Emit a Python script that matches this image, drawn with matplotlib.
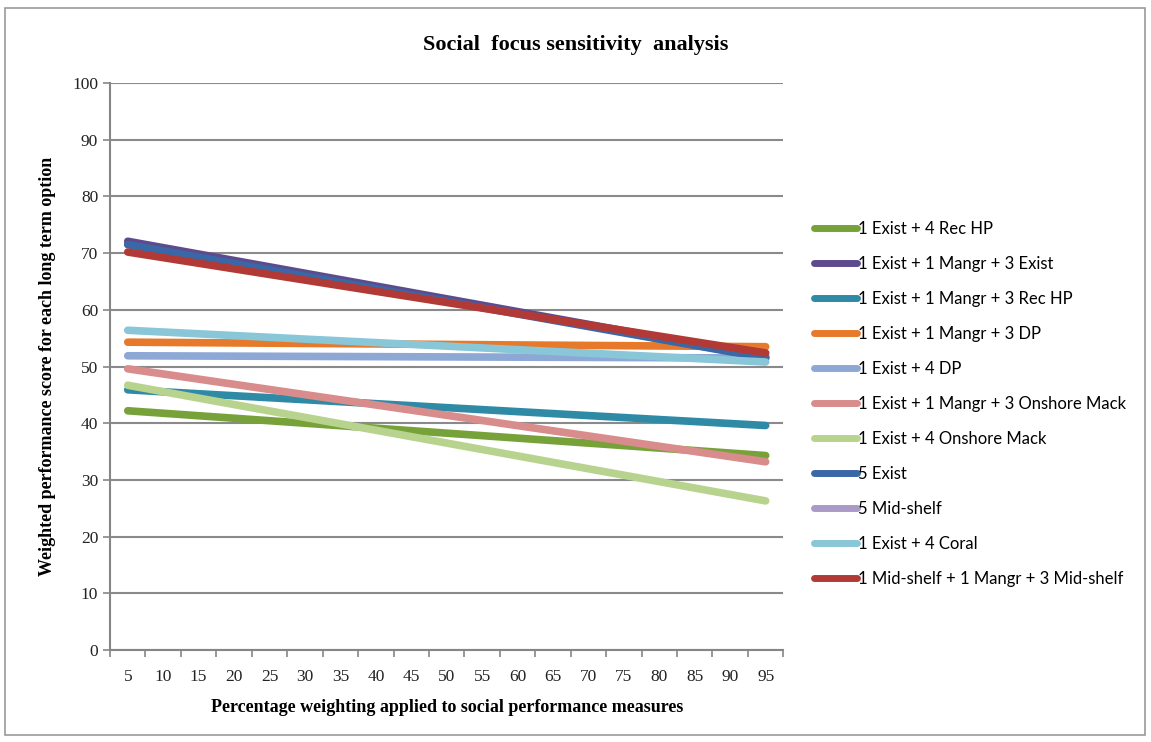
import matplotlib.pyplot as plt
from matplotlib.patches import Rectangle
from matplotlib.lines import Line2D

# endpoints (all series are straight lines from 5% to 95%)
weights = [5, 95]
tick_values = list(range(5, 100, 5))

series_names = [
    "1 Exist + 4 Rec HP",
    "1 Exist + 1 Mangr + 3 Exist",
    "1 Exist + 1 Mangr + 3 Rec HP",
    "1 Exist + 1 Mangr + 3 DP",
    "1 Exist + 4 DP",
    "1 Exist + 1 Mangr + 3 Onshore Mack",
    "1 Exist + 4 Onshore Mack",
    "5 Exist",
    "5 Mid-shelf",
    "1 Exist + 4 Coral",
    "1 Mid-shelf + 1 Mangr + 3 Mid-shelf",
]
rec_hp = [42.2, 34.3]
mangr_exist = [72.1, 51.8]
mangr_rec_hp = [45.9, 39.6]
mangr_dp = [54.3, 53.5]
dp = [51.9, 51.5]
mangr_onshore = [49.6, 33.2]
onshore = [46.7, 26.3]
exist5 = [71.5, 51.5]
midshelf5 = [71.6, 51.6]
coral = [56.4, 50.8]
midshelf_mangr = [70.2, 52.4]

values = [rec_hp, mangr_exist, mangr_rec_hp, mangr_dp, dp, mangr_onshore,
          onshore, exist5, midshelf5, coral, midshelf_mangr]
colors = ["#77A23A", "#5E4B8E", "#2F8AA6", "#E67A2A", "#8EA8D6", "#D98C8C",
          "#B8D38E", "#3A68A6", "#A99BC6", "#88C6D8", "#B23A36"]
# 5 Mid-shelf sits hidden under the other high lines in the original
zorders = [3, 3, 3, 3, 3, 3, 3, 3, 2, 3, 3]

serif = "Liberation Serif"

fig = plt.figure(figsize=(11.51, 7.42), dpi=100)
fig.patches.append(Rectangle((0.004, 0.009), 0.991, 0.98, transform=fig.transFigure,
                             fill=False, edgecolor="#9a9a9a", linewidth=1.2))

ax = fig.add_axes([0.0956, 0.124, 0.585, 0.764])

for name, vals, col, z in zip(series_names, values, colors, zorders):
    ax.plot(weights, vals, color=col, linewidth=5.5, solid_capstyle="round",
            label=name, zorder=z)

ax.set_yticks(range(0, 101, 10))
ax.set_xticks(tick_values)
ax.set_xticks([2.5 + 5 * k for k in range(20)], minor=True)
ax.set_xlim(2.5, 97.5)
ax.set_ylim(0, 100)
ax.tick_params(axis="x", which="major", length=0, pad=14)
ax.tick_params(axis="x", which="minor", length=5, color="#868686", width=1.2)
ax.tick_params(axis="y", length=5, color="#868686", width=1.2)
for lab in ax.get_xticklabels() + ax.get_yticklabels():
    lab.set_fontfamily(serif)
    lab.set_fontsize(12.5)
    lab.set_color("#222222")

ax.grid(axis="y", color="#8a8a8a", linewidth=1.5)
ax.set_axisbelow(True)
for side in ["top", "right"]:
    ax.spines[side].set_visible(False)
for side in ["left", "bottom"]:
    ax.spines[side].set_color("#868686")
    ax.spines[side].set_linewidth(1.5)

ax.set_xlabel("Percentage weighting applied to social performance measures",
              fontfamily=serif, fontweight="bold", fontsize=13, labelpad=10)
ax.set_ylabel("Weighted performance score for each long term option",
              fontfamily=serif, fontweight="bold", fontsize=13, labelpad=12)
fig.text(0.5, 0.940, "Social  focus sensitivity  analysis", ha="center", va="center",
         fontfamily=serif, fontweight="bold", fontsize=16)

handles = [Line2D([], [], color=c, linewidth=5, solid_capstyle="round") for c in colors]
leg = fig.legend(handles, series_names, loc="upper left", bbox_to_anchor=(0.694, 0.722),
                 frameon=False, prop={"family": "Lato", "size": 12},
                 handlelength=2.6, handletextpad=0.05, labelspacing=1.14)

fig.savefig("out.png", dpi=100)
